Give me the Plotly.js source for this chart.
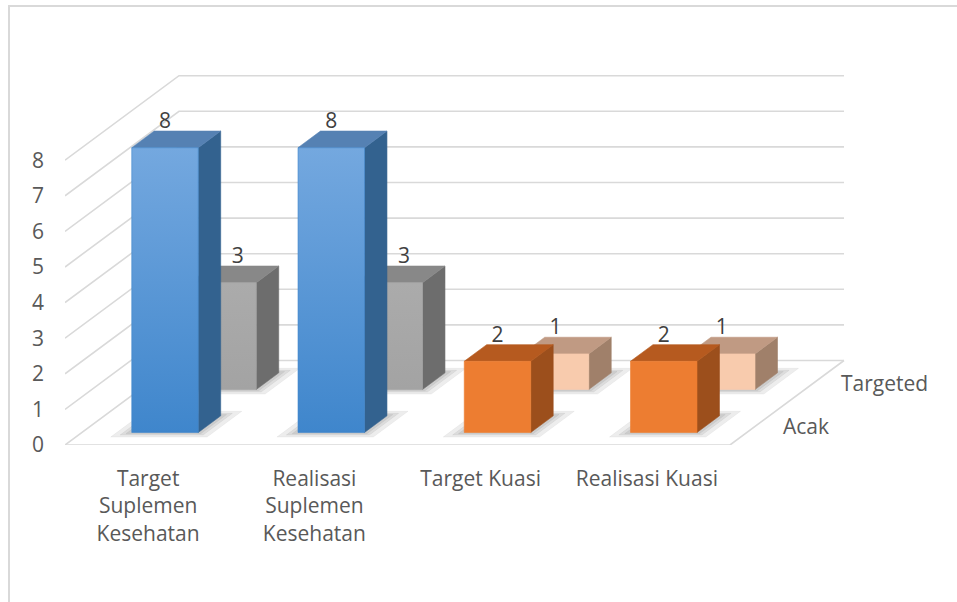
<!DOCTYPE html>
<html><head><meta charset="utf-8">
<script src="https://cdn.plot.ly/plotly-3.0.1.min.js"></script>
<style>html,body{margin:0;padding:0;background:#fff;} #chart{width:957px;height:602px;}</style>
</head><body><div id="chart"></div>
<script>
// ---------- data ----------
const categories = ["Target<br>Suplemen<br>Kesehatan", "Realisasi<br>Suplemen<br>Kesehatan", "Target Kuasi", "Realisasi Kuasi"];
const seriesNames = ["Acak", "Targeted"];
const acak = [8, 8, 2, 2];
const targeted = [3, 3, 1, 1];
const yTicks = [0, 1, 2, 3, 4, 5, 6, 7, 8];

// ---------- geometry (style) ----------
const W = 957, H = 602, ML = 65, MB = 157, MT = 0, MR = 0;
const SLOT = 166.25, UNIT = 35.6;
const plotW = W - ML - MR, plotH = H - MT - MB;
const xMax = plotW / SLOT, yMax = plotH / UNIT;
const DX = 114 / SLOT, DY = 84.5 / UNIT;     // full floor depth, in axis units
const HW = 0.2;                              // half bar width (slot units)
const rows = [{d0: 0.148, d1: 0.345}, {d0: 0.657, d1: 0.854}];
const seriesValues = [acak, targeted];
const nCat = categories.length;
const P = (x, d, h) => [x + d * DX, h + d * DY];
const FONT = 'Open Sans, sans-serif', FS = 21;

const palette = [
  [ {front: ['#3f86cc', '#74a8df'], side: '#33628f', top: '#5581b3'},
    {front: ['#ed7d31', '#ed7d31'], side: '#9c4f1c', top: '#b65a1f'} ],
  [ {front: ['#a3a3a3', '#ababab'], side: '#6d6d6d', top: '#888888'},
    {front: ['#f8cbad', '#f8cbad'], side: '#a0806a', top: '#c09a83'} ]
];
const groupOf = i => (i < 2 ? 0 : 1);

const traces = [];
function poly(pts, color, grad) {
  const xs = pts.map(p => p[0]).concat([pts[0][0]]);
  const ys = pts.map(p => p[1]).concat([pts[0][1]]);
  const t = {type: 'scatter', mode: 'lines', x: xs, y: ys, fill: 'toself',
    fillcolor: color, line: {width: 0.6, color: color}, hoverinfo: 'skip', showlegend: false};
  if (grad) {
    t.fillgradient = {type: 'vertical', colorscale: [[0, grad[0]], [1, grad[1]]]};
    t.line.color = grad[0];
  }
  traces.push(t);
}

// gridlines: left wall + back wall
const gx = [], gy = [];
yTicks.forEach(v => {
  const a = P(0, 0, v), b = P(0, 1, v), c = P(nCat, 1, v);
  gx.push(a[0], b[0], c[0], null); gy.push(a[1], b[1], c[1], null);
});
// floor front and right edges
{
  const a = P(0, 0, 0), b = P(nCat, 0, 0), c = P(nCat, 1, 0);
  gx.push(a[0], b[0], c[0], null); gy.push(a[1], b[1], c[1], null);
}
traces.push({type: 'scatter', mode: 'lines', x: gx, y: gy, line: {color: '#d9d9d9', width: 1.6},
  hoverinfo: 'skip', showlegend: false});

// shadows on floor
[1, 0].forEach(r => {
  const {d0, d1} = rows[r];
  for (let i = 0; i < nCat; i++) {
    const c = i + 0.5;
    [0.09, 0.05, 0.025].forEach(e => {
      const ed = e * 0.6;
      poly([P(c - HW - e, d0 - ed, 0), P(c + HW + e, d0 - ed, 0), P(c + HW + e, d1 + ed, 0), P(c - HW - e, d1 + ed, 0)],
        'rgba(0,0,0,0.07)');
    });
  }
});

// bars: back row first, then front row
[1, 0].forEach(r => {
  const {d0, d1} = rows[r];
  const vals = seriesValues[r];
  for (let i = 0; i < nCat; i++) {
    const v = vals[i], c = i + 0.5, st = palette[r][groupOf(i)];
    poly([P(c + HW, d0, 0), P(c + HW, d1, 0), P(c + HW, d1, v), P(c + HW, d0, v)], st.side);
    poly([P(c - HW, d0, v), P(c + HW, d0, v), P(c + HW, d1, v), P(c - HW, d1, v)], st.top);
    poly([P(c - HW, d0, 0), P(c + HW, d0, 0), P(c + HW, d0, v), P(c - HW, d0, v)], st.front[0], st.front);
  }
});

// data labels
const lx = [], ly = [], lt = [];
[0, 1].forEach(r => {
  const {d0, d1} = rows[r];
  const vals = seriesValues[r];
  for (let i = 0; i < nCat; i++) {
    const v = vals[i], c = i + 0.5;
    let x = P(c, d0, v)[0];
    const y = v + d1 * DY + 8 / UNIT;
    if (r === 1) {
      const f = rows[0];
      const frontTop = acak[i] + f.d1 * DY;
      if (frontTop > y) x = c + HW + f.d1 * DX + 17 / SLOT;
    }
    lx.push(x); ly.push(y); lt.push(String(v));
  }
});
traces.push({type: 'scatter', mode: 'text', x: lx, y: ly, text: lt, textposition: 'middle center',
  textfont: {family: FONT, size: FS, color: '#404040'}, hoverinfo: 'skip', showlegend: false});

// series name labels on the depth axis
const annotations = seriesNames.map((name, r) => {
  const d = (rows[r].d0 + rows[r].d1) / 2;
  const [x, y] = P(nCat, d, 0);
  return {x: x, y: y, xref: 'x', yref: 'y', text: name, showarrow: false, xanchor: 'left', yanchor: 'middle',
    xshift: 23, yshift: -2, font: {family: FONT, size: FS, color: '#595959'}};
});

const layout = {
  width: W, height: H, autosize: false,
  margin: {l: ML, r: MR, t: MT, b: MB},
  paper_bgcolor: '#fff', plot_bgcolor: 'rgba(0,0,0,0)',
  showlegend: false,
  xaxis: {range: [0, xMax], showgrid: false, zeroline: false, showline: false, ticks: '',
    tickvals: categories.map((_, i) => i + 0.5), ticktext: categories, tickangle: 0,
    tickfont: {family: FONT, size: FS, color: '#595959'}, ticklabelstandoff: 19, fixedrange: true},
  yaxis: {range: [0, yMax], showgrid: false, zeroline: false, showline: false, ticks: '',
    tickvals: yTicks, ticktext: yTicks.map(String),
    tickfont: {family: FONT, size: FS, color: '#595959'}, ticklabelstandoff: 20, fixedrange: true},
  annotations: annotations,
  shapes: [{type: 'rect', xref: 'paper', yref: 'paper', x0: (9 - ML) / plotW, x1: 1.05,
    y0: -0.5, y1: 1 - (6 - MT) / plotH, line: {color: '#d9d9d9', width: 2}, fillcolor: 'rgba(0,0,0,0)', layer: 'below'}]
};

Plotly.newPlot('chart', traces, layout, {displayModeBar: false, staticPlot: true});
</script>
</body></html>
